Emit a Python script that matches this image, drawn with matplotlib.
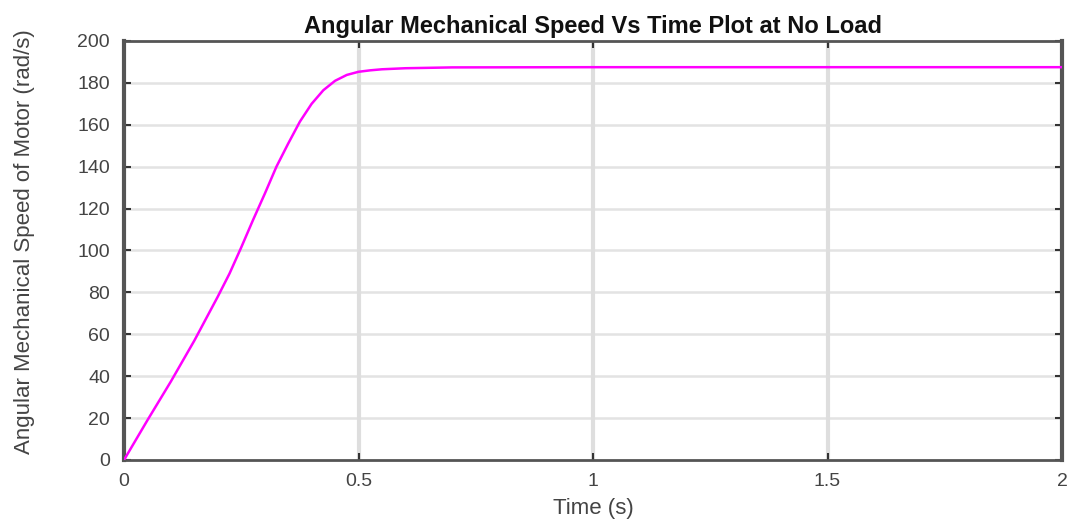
import matplotlib
matplotlib.use("Agg")
import matplotlib.pyplot as plt

# data
time_s = [0.0, 0.05, 0.1, 0.15, 0.2, 0.225, 0.25, 0.275, 0.3, 0.325, 0.35, 0.375,
          0.4, 0.425, 0.45, 0.475, 0.5, 0.525, 0.55, 0.6, 0.7, 1.0, 1.5, 2.0]
speed = [0.0, 19.0, 37.5, 57.0, 78.0, 89.0, 101.5, 114.5, 127.0, 140.0, 151.0, 161.5,
         170.0, 176.5, 181.0, 183.8, 185.3, 186.0, 186.5, 187.0, 187.4, 187.5, 187.5, 187.5]
xticks = [0, 0.5, 1, 1.5, 2]
xticklabels = ["0", "0.5", "1", "1.5", "2"]
yticks = list(range(0, 201, 20))

plt.rcParams['font.family'] = ['Liberation Sans', 'DejaVu Sans']

fig = plt.figure(figsize=(10.78, 5.2), dpi=100)
ax = fig.add_axes([124 / 1078, 1 - 460 / 520, (1062 - 124) / 1078, (460 - 41) / 520])

ax.plot(time_s, speed, color='#ff00ff', linewidth=1.8, solid_capstyle='round',
        solid_joinstyle='round', zorder=3)

ax.set_xlim(0, 2)
ax.set_ylim(0, 200)
ax.set_xticks(xticks)
ax.set_xticklabels(xticklabels)
ax.set_yticks(yticks)

# grid: horizontal light, vertical a bit stronger
for y in yticks[1:-1]:
    ax.axhline(y, color='#e3e3e3', linewidth=1.8, zorder=1)
for x in xticks[1:-1]:
    ax.axvline(x, color='#dedede', linewidth=3.0, zorder=1)

for s in ax.spines.values():
    s.set_color('#555555')
    s.set_linewidth(2.0)
ax.spines['left'].set_linewidth(3.0)
ax.spines['right'].set_linewidth(3.0)

ax.tick_params(direction='in', length=5, width=1.5, color='#333333',
               labelsize=14, labelcolor='#444444', top=True, right=True)
ax.tick_params(axis='x', pad=9)
ax.tick_params(axis='y', pad=10)

ax.set_title("Angular Mechanical Speed Vs Time Plot at No Load",
             fontsize=17, fontweight='bold', color='#111111', pad=6)
ax.set_xlabel("Time (s)", fontsize=16, color='#444444', labelpad=6)
ax.set_ylabel("Angular Mechanical Speed of Motor (rad/s)", fontsize=16, color='#444444',
              family=['Liberation Sans Narrow', 'Liberation Sans', 'DejaVu Sans'])
ax.yaxis.set_label_coords(-0.095, 0.52)

fig.savefig("out.png", dpi=100, facecolor='white')
